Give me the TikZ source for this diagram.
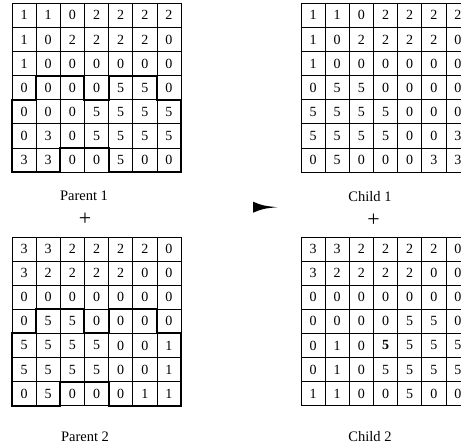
\documentclass[tikz,border=0pt]{standalone}
\usepackage{fontspec}
\setmainfont{Liberation Serif}
\usetikzlibrary{calc}
\tikzset{
  cell/.style={draw=black, line width=0.7pt, minimum width=24.15pt, minimum height=24.1pt,
    inner sep=0pt, outer sep=0pt, font=\fontsize{14}{15}\selectfont},
  region/.style={draw=black, line width=2pt, line join=miter},
  gridlabel/.style={font=\fontsize{14.5}{16}\selectfont, anchor=base, inner sep=0pt},
  plussign/.style={font=\fontsize{22}{22}\selectfont, inner sep=0pt},
}
\newcommand\drawgrid[4]{%
  \foreach \row [count=\r] in {#4} {
    \foreach \v [count=\c] in \row {
      \node[cell] (#1-\r-\c) at ({#2+(\c-0.5)*24.15},{#3+(\r-0.5)*24.1}) {\v};
    }
  }
}
\newcommand\drawregion[2]{%
  \begin{scope}[shift={(#1,#2)}, x=24.15pt, y=-24.1pt]
    \draw[region] (0,4)--(1,4)--(1,3)--(3,3)--(3,4)--(4,4)--(4,3)--(6,3)--(6,4)--(7,4)
      --(7,7)--(4,7)--(4,6)--(2,6)--(2,7)--(0,7)--cycle;
  \end{scope}
}
\begin{document}
\begin{tikzpicture}[x=1pt, y=-1pt]
\clip (0,0) rectangle (461,447);
\useasboundingbox (0,0) rectangle (461,447);
% Parent 1
\drawgrid{pa}{12}{3.3}{{1,1,0,2,2,2,2},{1,0,2,2,2,2,0},{1,0,0,0,0,0,0},{0,0,0,0,5,5,0},{0,0,0,5,5,5,5},{0,3,0,5,5,5,5},{3,3,0,0,5,0,0}}
\drawregion{12}{3.3}
% Parent 2
\drawgrid{pb}{12}{237}{{3,3,2,2,2,2,0},{3,2,2,2,2,0,0},{0,0,0,0,0,0,0},{0,5,5,0,0,0,0},{5,5,5,5,0,0,1},{5,5,5,5,0,0,1},{0,5,0,0,0,1,1}}
\drawregion{12}{237}
% Child 1
\drawgrid{ca}{301}{3.3}{{1,1,0,2,2,2,2},{1,0,2,2,2,2,0},{1,0,0,0,0,0,0},{0,5,5,0,0,0,0},{5,5,5,5,0,0,0},{5,5,5,5,0,0,3},{0,5,0,0,0,3,3}}
% Child 2
\drawgrid{cb}{301}{237}{{3,3,2,2,2,2,0},{3,2,2,2,2,0,0},{0,0,0,0,0,0,0},{0,0,0,0,5,5,0},{0,1,0,\textbf{5},5,5,5},{0,1,0,5,5,5,5},{1,1,0,0,5,0,0}}
% labels
\node[gridlabel] (lpa) at (84,200.7) {Parent 1};
\node[plussign] (pluspa) at (85,219.3) {+};
\node[gridlabel] (lca) at (370,201) {Child 1};
\node[plussign] (plusca) at (373.5,220) {+};
\node[gridlabel] (lpb) at (85,441.5) {Parent 2};
\node[gridlabel] (lcb) at (370,441.5) {Child 2};
% arrow
\coordinate (arrowtail) at (253,207.2);
\coordinate (arrowtip) at (277,207.2);
\fill ($(arrowtail)+(0,-5.5)$) .. controls ($(arrowtail)+(10,-1.5)$) .. (arrowtip)
  .. controls ($(arrowtail)+(10,1.5)$) .. ($(arrowtail)+(0,5.5)$) -- cycle;
\end{tikzpicture}
\end{document}
